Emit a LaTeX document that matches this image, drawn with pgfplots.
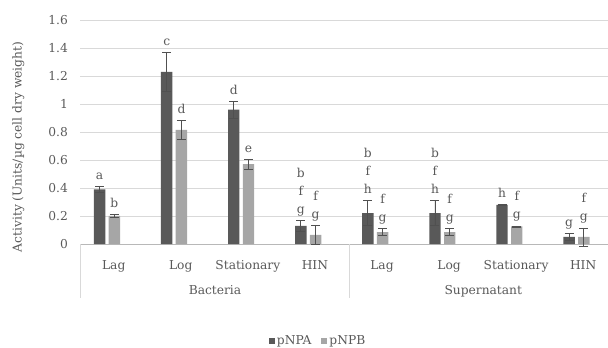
\documentclass[border=0pt]{standalone}
\usepackage{pgfplots}
\pgfplotsset{compat=1.18}
\usepackage{pgfplotstable}
\usepackage{fontspec}
\setmainfont{DejaVu Serif}
\definecolor{darkbar}{HTML}{595959}
\definecolor{lightbar}{HTML}{A6A6A6}
\definecolor{gridc}{HTML}{D9D9D9}
\definecolor{errc}{HTML}{505050}
\definecolor{txt}{HTML}{595959}
\newcommand\fnt{\fontsize{12.3}{14}\selectfont}
\newcommand\lt[4]{\node[anchor=base,inner sep=0pt,font=\fnt,text=txt] at (axis cs:#1,#2) [yshift=7bp+18bp*#3] {#4};}
\pgfplotstableread{
x   a     ae     b     be
0   0.39  0.02   0.20  0.01
1   1.23  0.14   0.815 0.07
2   0.96  0.06   0.57  0.035
3   0.13  0.04   0.065 0.07
4   0.22  0.09   0.085 0.025
5   0.22  0.09   0.085 0.025
6   0.28  0.005  0.125 0.004
7   0.05  0.025  0.05  0.065
}\data
\begin{document}
\begin{tikzpicture}
\useasboundingbox (0,0) rectangle (608bp,348bp);
\begin{axis}[
  at={(80bp,104bp)}, anchor=south west,
  scale only axis, width=528bp, height=224bp,
  xmin=-0.4026, xmax=7.47, ymin=0, ymax=1.6,
  ytick={0,0.2,...,1.6},
  xtick={0.1,1.1,2.1,3.1,4.1,5.1,6.1,7.1},
  xticklabels={Lag,Log,Stationary,HIN,Lag,Log,Stationary,HIN},
  /pgf/number format/assume math mode=true,
  tick label style={font=\fnt, text=txt},
  yticklabel style={anchor=east, inner sep=0pt, xshift=-12bp},
  xticklabel style={anchor=base, inner sep=0pt, yshift=-25bp},
  major tick length=0pt,
  ymajorgrids, grid style={gridc, line width=0.8bp},
  axis x line*=bottom, axis y line*=left,
  x axis line style={draw=black!28, line width=0.8bp},
  y axis line style={draw=none},
  clip=false,
  ybar, bar width=0.17,
  legend style={at={(axis description cs:0.451,-0.433)}, anchor=center, draw=none, fill=none,
     legend columns=2, font=\fnt, text=txt, inner sep=0pt,
     /tikz/every even column/.append style={column sep=8bp}},
  legend image code/.code={\fill[#1,draw=none] (0bp,-3bp) rectangle (6bp,3bp);},
  error bars/error bar style={errc, line width=0.8bp},
  error bars/error mark options={rotate=90, errc, mark size=4.5bp, line width=0.8bp},
]
\addplot[fill=darkbar, draw=none, bar shift=-0.11, error bars/.cd, y dir=both, y explicit]
  table[x=x, y=a, y error=ae] {\data};
\addplot[fill=lightbar, draw=none, bar shift=0.11, error bars/.cd, y dir=both, y explicit]
  table[x=x, y=b, y error=be] {\data};
\legend{pNPA, pNPB}
% y label
\node[rotate=90, anchor=center, inner sep=0pt, font=\fnt, text=txt] at (axis description cs:-0.117,0.433) {Activity (Units/µg cell dry weight)};
% significance letters
\lt{-0.11}{0.41}{0}{a}
\lt{0.11}{0.21}{0}{b}
\lt{0.89}{1.37}{0}{c}
\lt{1.11}{0.885}{0}{d}
\lt{1.89}{1.02}{0}{d}
\lt{2.11}{0.605}{0}{e}
\lt{2.89}{0.17}{0}{g}
\lt{2.89}{0.17}{1}{f}
\lt{2.89}{0.17}{2}{b}
\lt{3.11}{0.135}{0}{g}
\lt{3.11}{0.135}{1}{f}
\lt{3.89}{0.31}{0}{h}
\lt{3.89}{0.31}{1}{f}
\lt{3.89}{0.31}{2}{b}
\lt{4.11}{0.11}{0}{g}
\lt{4.11}{0.11}{1}{f}
\lt{4.89}{0.31}{0}{h}
\lt{4.89}{0.31}{1}{f}
\lt{4.89}{0.31}{2}{b}
\lt{5.11}{0.11}{0}{g}
\lt{5.11}{0.11}{1}{f}
\lt{5.89}{0.285}{0}{h}
\lt{6.11}{0.129}{0}{g}
\lt{6.11}{0.129}{1}{f}
\lt{6.89}{0.075}{0}{g}
\lt{7.11}{0.115}{0}{g}
\lt{7.11}{0.115}{1}{f}
% group separators and labels
\draw[gridc, line width=0.8bp] (axis cs:-0.4026,0) -- ([yshift=-54bp]axis cs:-0.4026,0);
\draw[gridc, line width=0.8bp] (axis cs:3.608,0) -- ([yshift=-54bp]axis cs:3.608,0);
\node[anchor=base, inner sep=0pt, font=\fnt, text=txt] at (axis cs:1.61,0) [yshift=-50bp] {Bacteria};
\node[anchor=base, inner sep=0pt, font=\fnt, text=txt] at (axis cs:5.61,0) [yshift=-50bp] {Supernatant};
\end{axis}
\end{tikzpicture}
\end{document}
